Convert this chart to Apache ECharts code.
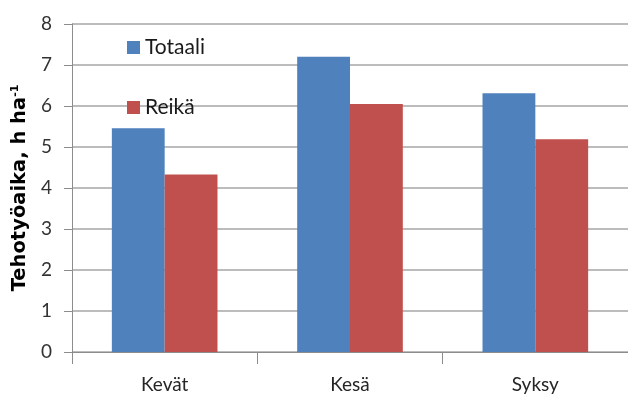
<!DOCTYPE html>
<html>
<head>
<meta charset="utf-8">
<script src="https://cdn.jsdelivr.net/npm/echarts@6/dist/echarts.min.js"></script>
<style>
  html, body { margin: 0; padding: 0; background: #fff; }
  #main { width: 628px; height: 401px; }
</style>
</head>
<body>
<div id="main"></div>
<script>
// data
var seasons = ["Kevät", "Kesä", "Syksy"]
var totaali = [5.46, 7.2, 6.31]
var reika = [4.33, 6.05, 5.19]
var yTicks = [0, 1, 2, 3, 4, 5, 6, 7, 8]

var myChart = echarts.init(document.getElementById('main'));

var option = {
  animation: false,
  textStyle: { fontFamily: 'Lato' },
  grid: { left: 72, right: 0, top: 24, bottom: 49 },
  legend: {
    orient: 'vertical',
    left: 122,
    top: 32,
    itemWidth: 13,
    itemHeight: 13,
    itemGap: 39,
    icon: 'rect',
    textStyle: { fontSize: 21, color: '#1a1a1a', fontFamily: 'Lato' },
    data: ['Totaali', 'Reikä']
  },
  xAxis: {
    type: 'category',
    data: seasons,
    axisLine: { lineStyle: { color: '#8c8c8c', width: 1 } },
    axisTick: { show: true, length: 12, lineStyle: { color: '#8c8c8c' } },
    axisLabel: { fontSize: 19, color: '#262626', margin: 23 }
  },
  yAxis: {
    type: 'value',
    min: yTicks[0],
    max: yTicks[yTicks.length - 1],
    interval: 1,
    // y-akselin otsikko, yläindeksi rich-tekstinä
    name: 'Tehotyöaika, h ha{s|-1}',
    nameLocation: 'middle',
    nameGap: 42,
    nameRotate: 90,
    nameTextStyle: {
      fontSize: 19.5, fontWeight: 'bold', color: '#000', fontFamily: 'DejaVu Sans',
      rich: { s: { fontSize: 11, fontWeight: 'bold', verticalAlign: 'top', fontFamily: 'DejaVu Sans', color: '#000' } }
    },
    axisLine: { show: true, lineStyle: { color: '#8c8c8c', width: 1 } },
    axisTick: { show: true, length: 8, lineStyle: { color: '#8c8c8c' } },
    axisLabel: { fontSize: 19, color: '#333', margin: 20 },
    splitLine: { lineStyle: { color: '#a6a6a6', width: 1.5 } }
  },
  series: [
    {
      name: 'Totaali',
      type: 'bar',
      data: totaali,
      barGap: '0%',
      barCategoryGap: '43%',
      itemStyle: { color: '#4F81BD' }
    },
    {
      name: 'Reikä',
      type: 'bar',
      data: reika,
      itemStyle: { color: '#C0504D' }
    }
  ]
};

myChart.setOption(option);
</script>
</body>
</html>
